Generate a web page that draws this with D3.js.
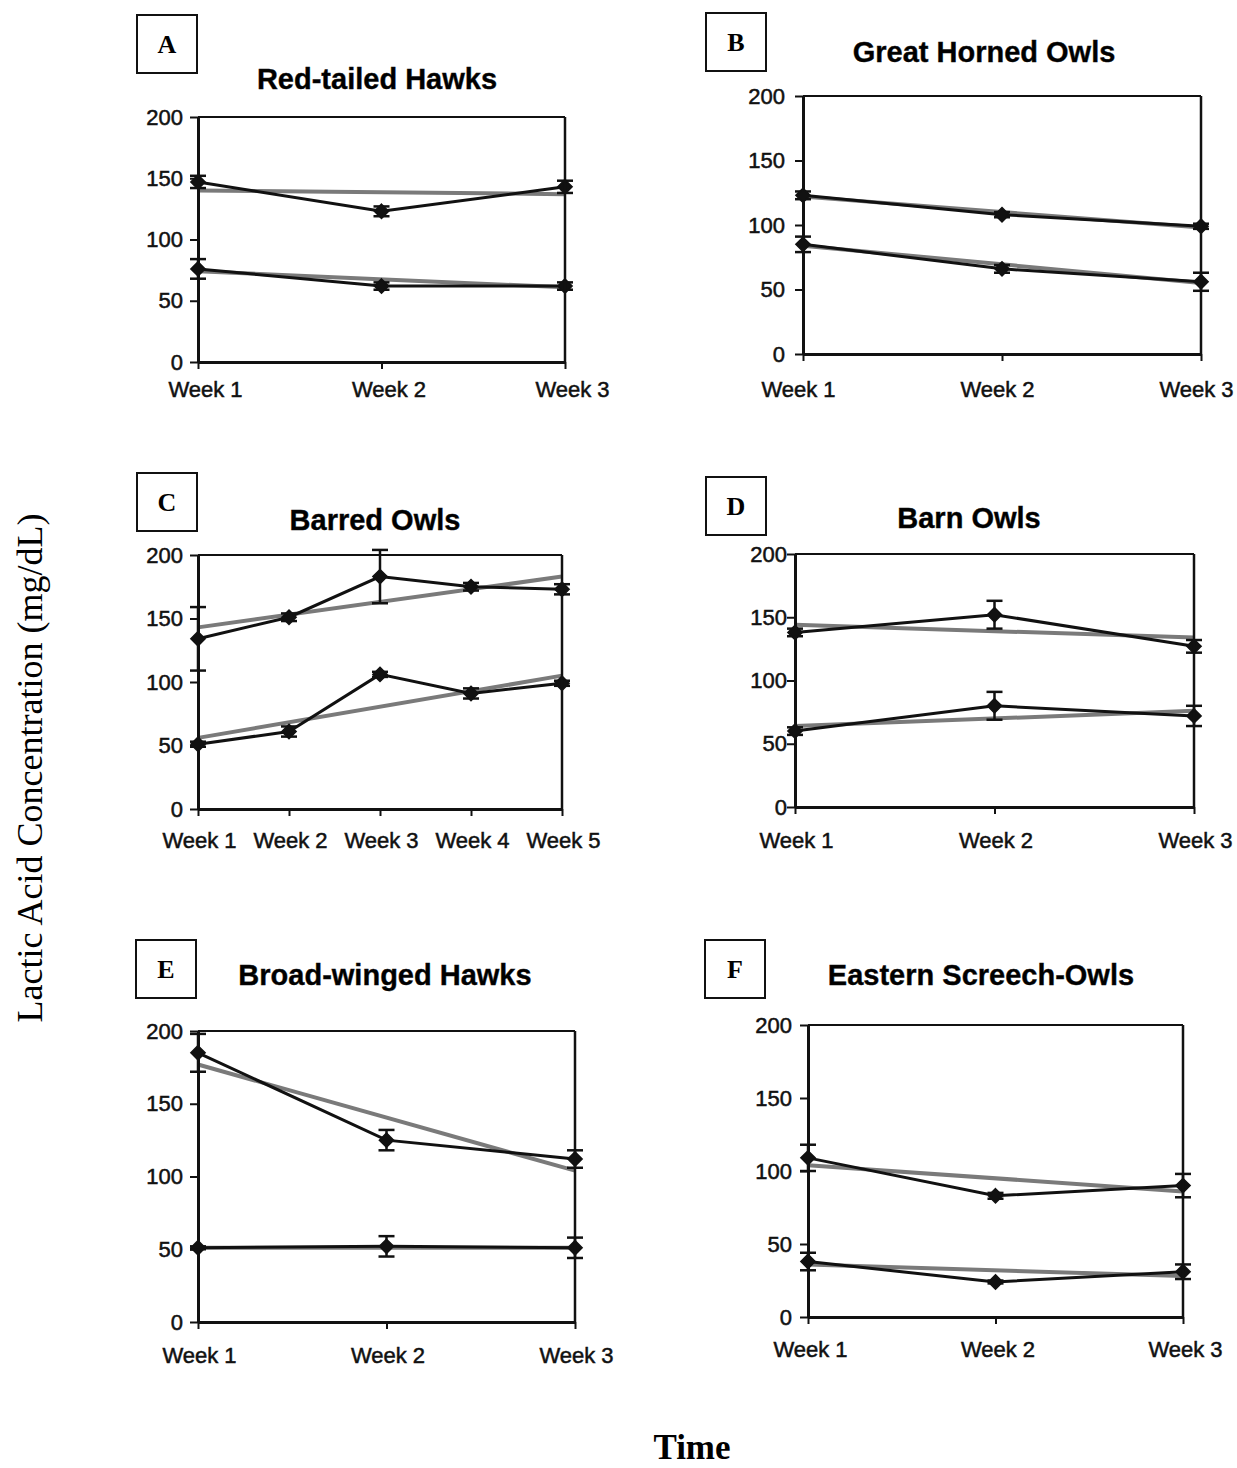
<!DOCTYPE html>
<html>
<head>
<meta charset="utf-8">
<script src="https://cdn.jsdelivr.net/npm/d3@7"></script>
<style>
  body { margin: 0; background: #fff; }
  svg { display: block; }
</style>
</head>
<body>
<svg width="1237" height="1468"></svg>
<script>
// data
var panelLetters = ['A', 'B', 'C', 'D', 'E', 'F'];
var panelTitles = ['Red-tailed Hawks', 'Great Horned Owls', 'Barred Owls',
                   'Barn Owls', 'Broad-winged Hawks', 'Eastern Screech-Owls'];
var weeks3 = ['Week 1', 'Week 2', 'Week 3'];
var weeks5 = ['Week 1', 'Week 2', 'Week 3', 'Week 4', 'Week 5'];
var yTicks = [0, 50, 100, 150, 200];

var upperMeans = [[147, 123, 143], [123, 108, 99], [134, 151, 183, 175, 173],
                  [138, 152, 127], [185, 125, 112], [109, 83, 90]];
var upperErr   = [[5, 4, 5], [3, 2, 2], [25, 3, 21, 3, 4],
                  [3, 11, 5], [13, 7, 6], [9, 2, 8]];
var lowerMeans = [[76, 62, 62], [85, 66, 56], [51, 61, 106, 91, 99],
                  [60, 80, 72], [51, 52, 51], [38, 24, 31]];
var lowerErr   = [[8, 3, 3], [6, 3, 7], [2, 4, 2, 4, 2],
                  [3, 11, 8], [1, 7, 7], [6, 1, 5]];
// trend lines: value at first week, value at last week
var upperTrend = [[140, 137], [122, 98], [143, 183], [144, 134], [177, 104], [104, 86]];
var lowerTrend = [[74, 61], [84, 55], [56, 105], [64, 76], [51, 51], [36, 28]];

// layout of each panel
var layout = [
  {l: 198, r: 565, t: 117, b: 362, gap: 15, xlab: 19, xs: 7, tx: 377, ty: 89, bx: 137, by: 15},
  {l: 803, r: 1201, t: 96, b: 354, gap: 18, xlab: 27, xs: -5, tx: 984, ty: 62, bx: 706, by: 13},
  {l: 198, r: 562, t: 555, b: 809, gap: 15, xlab: 23, xs: 1, tx: 375, ty: 530, bx: 137, by: 473},
  {l: 795, r: 1194, t: 554, b: 807, gap: 8, xlab: 25, xs: 1, tx: 969, ty: 528, bx: 706, by: 477},
  {l: 198, r: 575, t: 1031, b: 1322, gap: 15, xlab: 25, xs: 1, tx: 385, ty: 985, bx: 136, by: 940},
  {l: 808, r: 1183, t: 1025, b: 1317, gap: 16, xlab: 24, xs: 2, tx: 981, ty: 985, bx: 705, by: 940}
];

var svg = d3.select('svg');
var sans = '"Liberation Sans", Arial, sans-serif';
var serif = '"Liberation Serif", "Times New Roman", serif';

layout.forEach(function (p, i) {
  var cats = upperMeans[i].length === 5 ? weeks5 : weeks3;
  var x = d3.scalePoint().domain(cats).range([p.l, p.r]);
  var y = d3.scaleLinear().domain([0, 200]).range([p.b, p.t]);
  var g = svg.append('g');

  // letter box
  g.append('rect')
    .attr('x', p.bx).attr('y', p.by)
    .attr('width', 60).attr('height', 58)
    .attr('fill', 'none').attr('stroke', '#111').attr('stroke-width', 2);
  g.append('text')
    .attr('x', p.bx + 30).attr('y', p.by + 38)
    .attr('text-anchor', 'middle')
    .attr('font-family', serif).attr('font-weight', 'bold').attr('font-size', 26)
    .text(panelLetters[i]);

  // title
  g.append('text')
    .attr('x', p.tx).attr('y', p.ty)
    .attr('text-anchor', 'middle')
    .attr('font-family', sans).attr('font-weight', 'bold').attr('font-size', 29)
    .attr('stroke', '#111').attr('stroke-width', 0.4)
    .text(panelTitles[i]);

  // trend lines
  [upperTrend[i], lowerTrend[i]].forEach(function (tr) {
    g.append('line')
      .attr('x1', x(cats[0])).attr('y1', y(tr[0]))
      .attr('x2', x(cats[cats.length - 1])).attr('y2', y(tr[1]))
      .attr('stroke', '#7a7a7a').attr('stroke-width', 4);
  });

  var line = d3.line()
    .x(function (d, k) { return x(cats[k]); })
    .y(function (d) { return y(d); });

  [[upperMeans[i], upperErr[i]], [lowerMeans[i], lowerErr[i]]].forEach(function (s) {
    var means = s[0], errs = s[1];
    g.append('path')
      .attr('d', line(means))
      .attr('fill', 'none').attr('stroke', '#111').attr('stroke-width', 3);

    // error bars
    means.forEach(function (m, k) {
      var cx = x(cats[k]);
      g.append('line')
        .attr('x1', cx).attr('x2', cx)
        .attr('y1', y(m - errs[k])).attr('y2', y(m + errs[k]))
        .attr('stroke', '#111').attr('stroke-width', 2.5);
      [m - errs[k], m + errs[k]].forEach(function (v) {
        g.append('line')
          .attr('x1', cx - 8).attr('x2', cx + 8)
          .attr('y1', y(v)).attr('y2', y(v))
          .attr('stroke', '#111').attr('stroke-width', 2.5);
      });
    });

    // diamond markers
    g.selectAll(null)
      .data(means)
      .enter()
      .append('path')
      .attr('d', d3.symbol().type(d3.symbolDiamond2).size(130))
      .attr('transform', function (d, k) { return 'translate(' + x(cats[k]) + ',' + y(d) + ')'; })
      .attr('fill', '#111').attr('stroke', '#111').attr('stroke-width', 1.5);
  });

  // frame
  g.append('line').attr('x1', p.l).attr('x2', p.r).attr('y1', p.t).attr('y2', p.t)
    .attr('stroke', '#111').attr('stroke-width', 2);
  g.append('line').attr('x1', p.r).attr('x2', p.r).attr('y1', p.t).attr('y2', p.b)
    .attr('stroke', '#111').attr('stroke-width', 2.5);

  var ya = g.append('g')
    .attr('transform', 'translate(' + p.l + ',0)')
    .call(d3.axisLeft(y).tickValues(yTicks).tickSize(8).tickPadding(p.gap - 8).tickSizeOuter(0));
  var xa = g.append('g')
    .attr('transform', 'translate(0,' + p.b + ')')
    .call(d3.axisBottom(x).tickSize(7).tickPadding(p.xlab - 7).tickSizeOuter(0));
  xa.selectAll('.tick text').attr('dx', p.xs);

  [ya, xa].forEach(function (a) {
    a.select('.domain').attr('stroke', '#111').attr('stroke-width', 3);
    a.selectAll('.tick line').attr('stroke', '#111').attr('stroke-width', 2);
    a.selectAll('.tick text')
      .attr('font-family', sans).attr('font-size', 22).attr('fill', '#111')
      .attr('stroke', '#111').attr('stroke-width', 0.5);
  });
});

// shared axis titles
svg.append('text')
  .attr('transform', 'translate(42,768) rotate(-90)')
  .attr('text-anchor', 'middle')
  .attr('font-family', serif).attr('font-size', 36)
  .text('Lactic Acid Concentration (mg/dL)');

svg.append('text')
  .attr('x', 692).attr('y', 1459)
  .attr('text-anchor', 'middle')
  .attr('font-family', serif).attr('font-weight', 'bold').attr('font-size', 35)
  .text('Time');
</script>
</body>
</html>
